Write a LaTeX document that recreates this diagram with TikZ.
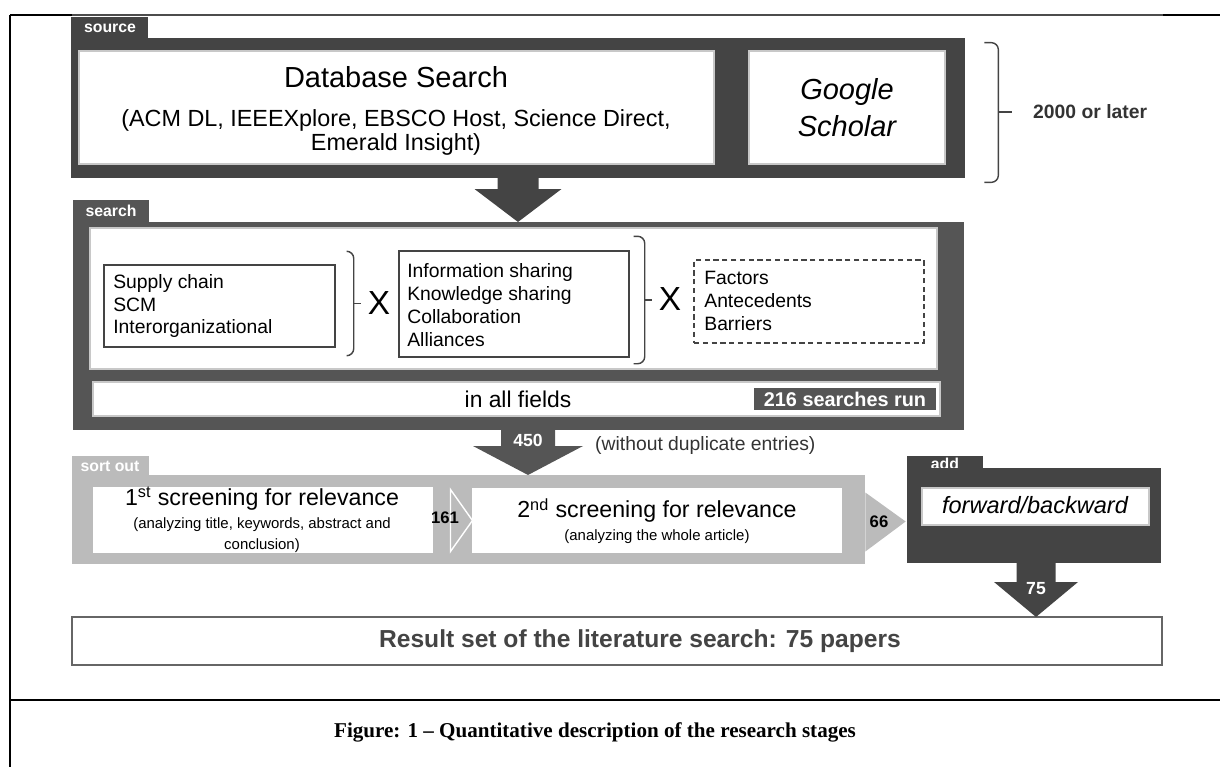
\documentclass[tikz,border=0pt]{standalone}
\usepackage{fontspec}
\setmainfont{Liberation Sans}
\newfontfamily\captionserif{Liberation Serif}
\usetikzlibrary{calc, fit}
\definecolor{srcgray}{HTML}{444444}
\definecolor{schgray}{HTML}{555555}
\definecolor{sortgray}{HTML}{BBBBBB}
\definecolor{textgray}{HTML}{333333}
\definecolor{rulegray}{HTML}{C8C8C8}
\newcommand{\fs}[2]{\fontsize{#1}{#2}\selectfont}

\begin{document}
\begin{tikzpicture}[
    x=0.02cm, y=-0.02cm,
    panel/.style={fill=#1, draw=none, inner sep=0pt},
    whitebox/.style={fill=white, draw=rulegray, line width=0.6pt, inner sep=0pt},
    listbox/.style={fill=white, draw=srcgray, line width=0.8pt, inner sep=0pt},
    tabtext/.style={text=white, font={\bfseries\fs{9}{10}}},
    numtext/.style={font={\bfseries\fs{10}{12}}},
    listtext/.style={anchor=west, align=left, inner sep=0pt, font={\fs{11}{13}}},
    crosstext/.style={font={\fs{19}{20}}},
    brc/.style={draw=srcgray, line width=0.8pt, rounded corners=4pt},
]
    \useasboundingbox (0,0) rectangle (1220,767);

    % frame of the figure
    \draw[line width=1.2pt] (10,15) -- (10,767);
    \draw[line width=1.6pt] (10,15) -- (72,15);
    \draw[line width=0.6pt, black!70] (72,15) -- (1163,15);
    \draw[line width=1.6pt] (1163,15) -- (1220,15);
    \draw[line width=1.6pt] (10,700) -- (1220,700);

    % source
    \node[panel=srcgray, fit={(71,17) (148,38)}] (srctab) {};
    \node[tabtext] at (110,28) (srclabel) {source};
    \node[panel=srcgray, fit={(71,38) (965,178)}] (srcpanel) {};
    \node[whitebox, fit={(79,51) (714,164)}] (dbbox) {};
    \node[align=center, inner sep=0pt] (dbtext) at (396,111)
        {{\fs{16.5}{20}Database Search}\\[10pt]
         {\fs{13.3}{13.2}(ACM DL, IEEEXplore, EBSCO Host, Science Direct,}\\
         {\fs{13.3}{13.2}Emerald Insight)}};
    \node[whitebox, fit={(749,51) (945,164)}] (gsbox) {};
    \node[align=center, inner sep=0pt, font={\itshape\fs{16.5}{21}}] (gstext) at (847,108) {Google\\Scholar};
    \coordinate (srcbrace) at ($(srcpanel.east)+(33,4)$);
    \draw[brc] ($(srcpanel.north east)+(19,5)$) -| (srcbrace) |- ($(srcpanel.south east)+(19,4)$);
    \draw[brc] (srcbrace) -- ++(14,0);
    \node[anchor=west, text=textgray, font={\bfseries\fs{11}{13}}] (yeartext)
        at (1027,112) {2000 or later};

    % search
    \node[panel=schgray, fit={(73,200) (149,222)}] (schtab) {};
    \node[tabtext] at (111,211) (schlabel) {search};
    \node[panel=schgray, fit={(73,222) (964,430)}] (schpanel) {};
    \node[whitebox, fit={(90,228) (937,369)}] (termbox) {};
    \node[listbox, fit={(104,265) (335,347)}] (chainbox) {};
    \node[listtext] (chaintext) at (113,306) {Supply chain\\SCM\\Interorganizational};
    \coordinate (brace1) at ($(chainbox.east)+(18,-2.5)$);
    \draw[brc] ($(chainbox.north east)+(12,-13)$) -| (brace1) |- ($(chainbox.south east)+(12,8)$);
    \draw[brc] (brace1) -- ++(7,0);
    \node[crosstext] (cross1) at (379,303) {X};
    \node[listbox, fit={(399,251) (629,357)}] (sharebox) {};
    \node[listtext] (sharetext) at (407,305)
        {Information sharing\\Knowledge sharing\\Collaboration\\Alliances};
    \coordinate (brace2) at ($(sharebox.east)+(15,-4)$);
    \draw[brc] ($(sharebox.north east)+(4,-14)$) -| (brace2) |- ($(sharebox.south east)+(4,6)$);
    \draw[brc] (brace2) -- ++(7,0);
    \node[crosstext] (cross2) at (670,299) {X};
    \node[listbox, dash pattern=on 3pt off 2pt, fit={(694,260) (924,343)}] (factorbox) {};
    \node[listtext] (factortext) at (704,301) {Factors\\Antecedents\\Barriers};
    \node[whitebox, fit={(93,382) (940,416)}] (fieldbox) {};
    \node[font={\fs{13}{14}}] (fieldtext) at (518,399) {in all fields};
    \node[panel=schgray, fit={(754,388) (936,410)}] (runbox) {};
    \node[text=white, font={\bfseries\fs{11.3}{13}}] (runtext) at (runbox.center) {216 searches run};

    % source -> search
    \coordinate (a1s) at (518,178);
    \coordinate (a1e) at (518,222);
    \fill[srcgray] ($(a1s)+(-20.5,-1)$) -- ($(a1e)+(-20.5,-33)$) -- ($(a1e)+(-43.5,-33)$) -- (a1e)
        -- ($(a1e)+(43.5,-33)$) -- ($(a1e)+(20.5,-33)$) -- ($(a1s)+(20.5,-1)$) -- cycle;

    % search -> sort out
    \coordinate (a2s) at (528,430);
    \coordinate (a2e) at (528,475);
    \fill[schgray] ($(a2s)+(-27,-1)$) -- ($(a2e)+(-27,-29)$) -- ($(a2e)+(-55,-29)$) -- (a2e)
        -- ($(a2e)+(55,-29)$) -- ($(a2e)+(27,-29)$) -- ($(a2s)+(27,-1)$) -- cycle;
    \node[numtext, text=white] (n450) at (528,440) {450};
    \node[anchor=west, font={\fs{11}{12}}, text=textgray] (duptext) at (589,445) {(without duplicate entries)};

    % sort out
    \node[panel=sortgray, fit={(72,456) (149,475)}] (sorttab) {};
    \node[tabtext] at (110,466) (sortlabel) {sort out};
    \node[panel=sortgray, fit={(72,475) (865,564)}] (sortpanel) {};
    \node[whitebox, draw=white, fit={(94,488) (432,552)}] (scr1box) {};
    \node[align=center, inner sep=0pt] (scr1text) at (262,520)
        {{\fs{13.2}{15}1\textsuperscript{st} screening for relevance}\\[1pt]
         {\fs{8.5}{9}(analyzing title, keywords, abstract and}\\{\fs{8.5}{9}conclusion)}};
    \node[whitebox, draw=white, fit={(473,489) (841,552)}] (scr2box) {};
    \node[align=center, inner sep=0pt] (scr2text) at (657,521)
        {{\fs{13.2}{15}2\textsuperscript{nd} screening for relevance}\\[1pt]
         {\fs{8.5}{9}(analyzing the whole article)}};
    \fill[sortgray, draw=white, line width=0.8pt] ($(scr2box.west)+(-22,-31)$) -- (scr2box.west)
        -- ($(scr2box.west)+(-22,31)$) -- cycle;
    \node[numtext, font={\bfseries\fs{9.5}{11}}] (n161) at (445,518) {161};

    % add
    \node[panel=srcgray, fit={(907,456) (983,468)}] (addtab) {};
    \node[tabtext] at (945,464) (addlabel) {add};
    \node[panel=srcgray, fit={(907,468) (1161,563)}] (addpanel) {};
    \node[whitebox, fit={(922,488) (1149,525)}] (fwdbox) {};
    \node[font={\itshape\fs{13.4}{15}}] (fwdtext) at (1035,505) {forward/backward};
    \fill[sortgray] ($(sortpanel.east)+(0,-27)$) -- ($(addpanel.west)+(-1,6)$)
        -- ($(sortpanel.east)+(0,32)$) -- cycle;
    \node[numtext, font={\bfseries\fs{9.5}{11}}] (n66) at (879,522) {66};

    % result
    \node[whitebox, draw=black!60, line width=0.8pt, fit={(72,617) (1162,665)}] (resultbox) {};
    \node[text=srcgray, font={\bfseries\fs{14}{16}}] (resulttext) at (640,641)
        {Result set of the literature search: 75 papers};
    \coordinate (a3s) at (1036,563);
    \coordinate (a3e) at (1036,617);
    \fill[srcgray] ($(a3s)+(-19.5,-1)$) -- ($(a3e)+(-19.5,-35)$) -- ($(a3e)+(-42,-35)$) -- (a3e)
        -- ($(a3e)+(42,-35)$) -- ($(a3e)+(19.5,-35)$) -- ($(a3s)+(19.5,-1)$) -- cycle;
    \node[numtext, text=white] (n75) at (1036,589) {75};

    % caption
    \node[font={\captionserif\bfseries\fs{12}{14}}] (caption) at (595,732)
        {Figure: 1 – Quantitative description of the research stages};
\end{tikzpicture}
\end{document}
